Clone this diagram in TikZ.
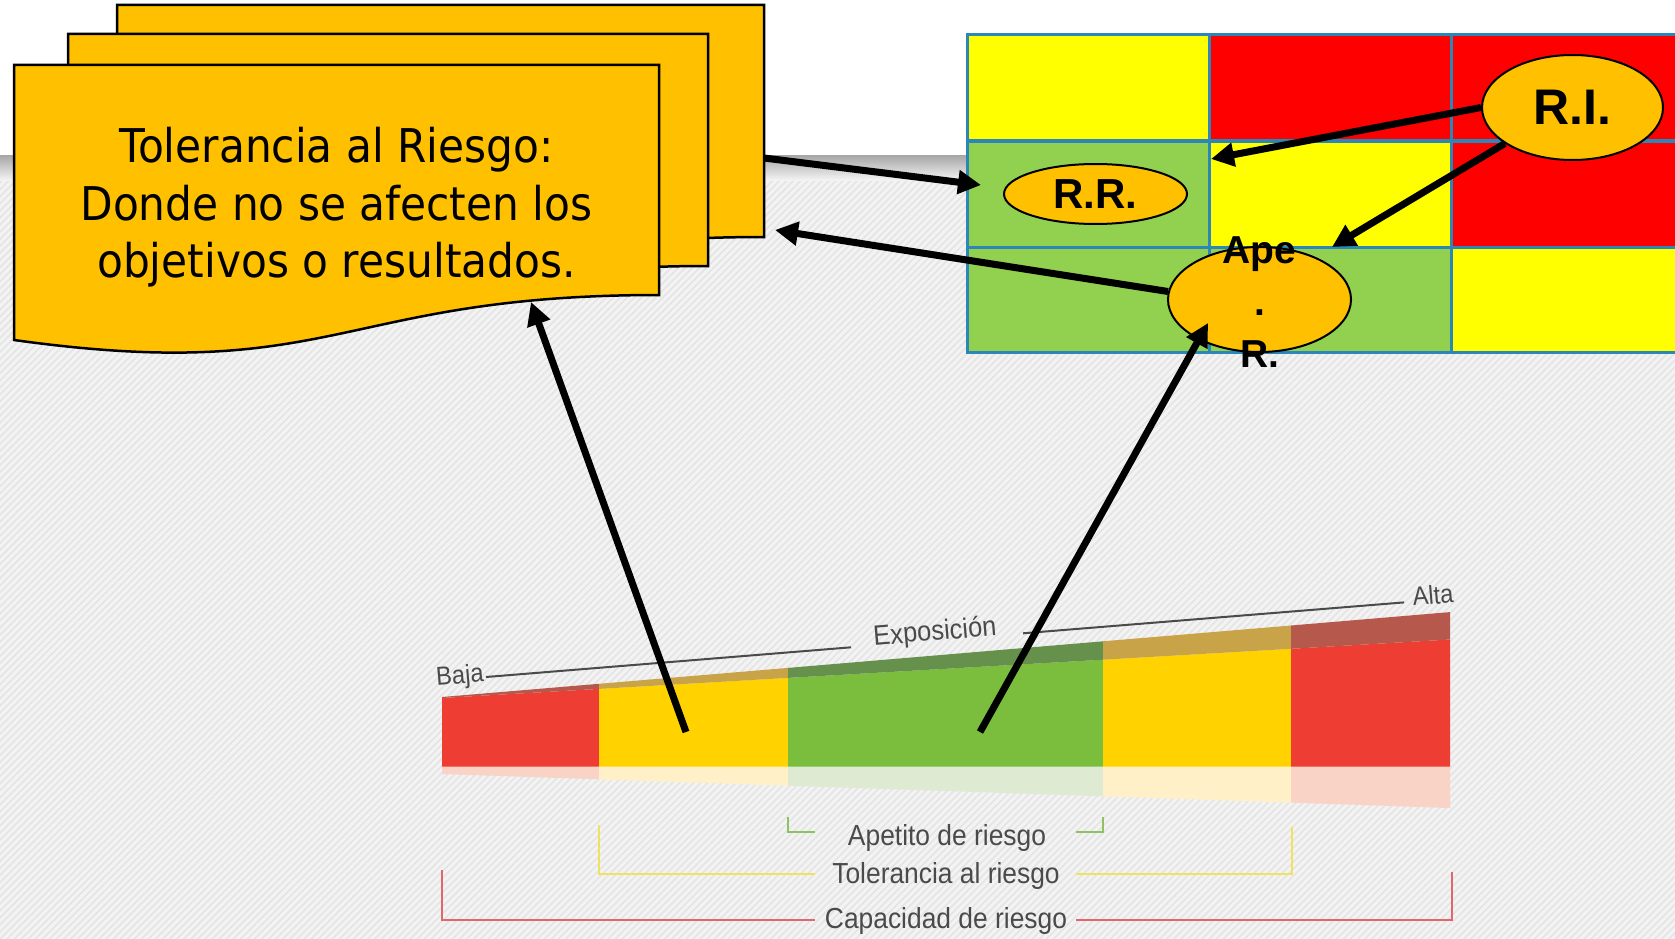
\documentclass[tikz,border=0pt]{standalone}
\usepackage{fontspec}
\setmainfont{Liberation Sans}
\newfontfamily\chartfont[FakeStretch=0.91]{Liberation Sans}
\newfontfamily\docfont[FakeStretch=0.91]{DejaVu Sans}
\usetikzlibrary{arrows.meta,shapes.geometric,patterns.meta}
\definecolor{docfill}{HTML}{FFC000}
\definecolor{gridline}{HTML}{2B87B7}
\definecolor{gyellow}{HTML}{FFFF00}
\definecolor{gred}{HTML}{FF0000}
\definecolor{ggreen}{HTML}{92D050}
\definecolor{bggray}{HTML}{F3F3F3}
\definecolor{hatchgray}{HTML}{E4E4E4}
\definecolor{bred}{HTML}{EE3D32}
\definecolor{byellow}{HTML}{FFD200}
\definecolor{bgreen}{HTML}{7BBE3E}
\definecolor{dred}{HTML}{B6584C}
\definecolor{dyellow}{HTML}{C8A348}
\definecolor{dgreen}{HTML}{66914C}
\definecolor{pred}{HTML}{F8D3C6}
\definecolor{pyellow}{HTML}{FFF0C8}
\definecolor{pgreen}{HTML}{DEEBD2}
\definecolor{chartgray}{HTML}{4A4A4A}
\definecolor{lgreen}{HTML}{8DC262}
\definecolor{lyellow}{HTML}{EDE35E}
\definecolor{lred}{HTML}{E0676B}
\begin{document}
\begin{tikzpicture}[x=1pt,y=-1pt,
  doc/.style={fill=docfill,draw=black,line width=2.5pt,line join=miter},
  ell/.style={ellipse,fill=docfill,draw=black,line width=2pt,inner sep=0pt,font=\bfseries},
  arr/.style={line width=7pt,-{Triangle[length=23pt,width=23pt]}},
  gline/.style={draw=gridline,line width=3pt},
  brk/.style={line width=2.5pt},
  ctext/.style={text=chartgray,font=\chartfont\fontsize{29}{29}\selectfont,inner sep=0pt},
  etext/.style={text=chartgray,font=\chartfont\fontsize{26}{26}\selectfont,inner sep=0pt,rotate=4.7}]
\clip (0,0) rectangle (1675,939);
% background
\fill[white] (0,0) rectangle (1675,939);
\fill[bggray] (0,155) rectangle (1675,939);
\fill[pattern={Lines[angle=45,distance=5pt,line width=1.6pt]}, pattern color=hatchgray] (0,155) rectangle (1675,939);
\shade[top color=black!35, bottom color=bggray] (0,155) rectangle (1675,180);
% risk matrix
\fill[gyellow] (967,35) rectangle (1209,141);
\fill[gred] (1209,35) rectangle (1693,141);
\fill[ggreen] (967,141) rectangle (1209,247);
\fill[gyellow] (1209,141) rectangle (1451,247);
\fill[gred] (1451,141) rectangle (1693,247);
\fill[ggreen] (967,247) rectangle (1451,352);
\fill[gyellow] (1451,247) rectangle (1693,352);
\draw[gline] (967,35) rectangle (1693,352);
\draw[gline] (967,141) -- (1693,141);
\draw[gline] (967,247) -- (1693,247);
\draw[gline] (1209,35) -- (1209,352);
\draw[gline] (1451,35) -- (1451,352);
% documents
\draw[doc] (117,5) -- (764,5) -- (764,237) .. controls (440,237) and (440,327) .. (117,282) -- cycle;
\draw[doc] (68,34) -- (708,34) -- (708,266) .. controls (388,266) and (388,356) .. (68,311) -- cycle;
\draw[doc] (14,65) -- (659,65) -- (659,295) .. controls (337,295) and (337,385) .. (14,340) -- cycle;
\node[anchor=north,align=center,inner sep=0pt,font=\docfont\fontsize{46.5}{57.5}\selectfont] (tol) at (336.5,127)
  {Tolerancia al Riesgo:\\Donde no se afecten los\\objetivos o resultados.};
% ellipses
\node[ell,minimum width=181pt,minimum height=105pt,font=\bfseries\fontsize{50}{50}\selectfont] (RI) at (1572.5,107.5) {R.I.};
\node[ell,minimum width=183pt,minimum height=60pt,font=\bfseries\fontsize{42}{42}\selectfont] (RR) at (1095.5,194) {R.R.};
\node[ell,minimum width=183pt,minimum height=105pt] (AR) at (1259.5,299.5) {};
\node[anchor=base,inner sep=0pt,font=\bfseries\fontsize{39}{39}\selectfont] (ar1) at (1259.5,263) {Ape};
\node[anchor=base,inner sep=0pt,font=\bfseries\fontsize{39}{39}\selectfont] (ar2) at (1259.5,315) {.};
\node[anchor=base,inner sep=0pt,font=\bfseries\fontsize{39}{39}\selectfont] (ar3) at (1259.5,367) {R.};
% exposure bar
\foreach \xa/\ta/\ba/\pa/\xb/\tb/\bb/\pb/\c in {
  442/697/698/774/599/683.8/688.9/779.3/red,
  599/683.8/688.9/779.3/788/667.9/677.9/785.7/yellow,
  788/667.9/677.9/785.7/1103/641.3/659.7/796.3/green,
  1103/641.3/659.7/796.3/1291/625.5/648.8/802.6/yellow,
  1291/625.5/648.8/802.6/1450/612.1/639.5/808/red} {
  \fill[p\c] (\xa,766) -- (\xb,766) -- (\xb,\pb) -- (\xa,\pa) -- cycle;
  \fill[b\c] (\xa,\ba) -- (\xb,\bb) -- (\xb,766.5) -- (\xa,766.5) -- cycle;
  \fill[d\c] (\xa,\ta) -- (\xb,\tb) -- (\xb,\bb) -- (\xa,\ba) -- cycle;
}
\draw[chartgray,line width=2pt] (486,677) -- (851,647.3);
\draw[chartgray,line width=2pt] (1023,633.3) -- (1404,602.4);
\node[etext] (baja) at (460,677) {Baja};
\node[etext] (alta) at (1433,595) {Alta};
\node[etext,font=\chartfont\fontsize{28}{28}\selectfont] (expo) at (935,633) {Exposición};
% brackets
\draw[brk,lgreen] (788,817) -- (788,832) -- (815,832);
\draw[brk,lgreen] (1076,832) -- (1103,832) -- (1103,817);
\draw[brk,lyellow] (599,825) -- (599,874) -- (815,874);
\draw[brk,lyellow] (1076,874) -- (1292,874) -- (1292,827);
\draw[brk,lred] (442,870) -- (442,920) -- (815,920);
\draw[brk,lred] (1076,920) -- (1452,920) -- (1452,872);
\node[ctext,anchor=base] (ape) at (947,845) {Apetito de riesgo};
\node[ctext,anchor=base] (tolr) at (946,883) {Tolerancia al riesgo};
\node[ctext,anchor=base] (cap) at (946,928) {Capacidad de riesgo};
% arrows
\coordinate (a1s) at (764,158);
\coordinate (a1e) at (981,185);
\coordinate (a2e) at (1211,159);
\coordinate (a3e) at (1332,247);
\coordinate (a4e) at (775,230);
\coordinate (a5s) at (686,732);
\coordinate (a5e) at (531,302);
\coordinate (a6s) at (980,732);
\coordinate (a6e) at (1208,323);
\draw[arr] (a1s) -- (a1e);
\draw[arr] (RI.west) -- (a2e);
\draw[arr] (RI.208) -- (a3e);
\draw[arr] (AR.175) -- (a4e);
\draw[arr] (a5s) -- (a5e);
\draw[arr] (a6s) -- (a6e);
\end{tikzpicture}
\end{document}
